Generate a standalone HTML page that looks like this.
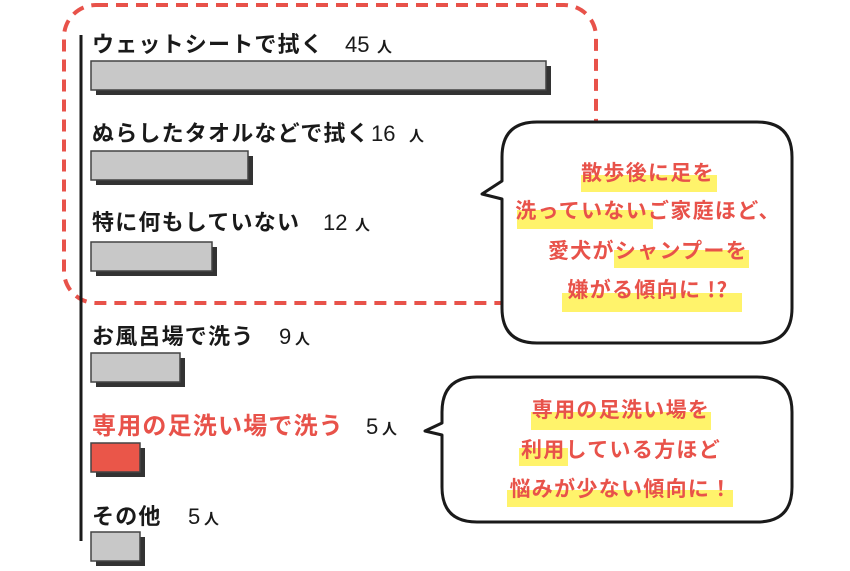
<!DOCTYPE html>
<html><head><meta charset="utf-8"><style>
html,body{margin:0;padding:0;background:#fff;}
svg{display:block;}
.l{font-family:"Noto Sans CJK JP",sans-serif;font-weight:bold;font-size:22px;letter-spacing:1.2px;fill:#1a1a1a;}
.n{font-family:"Liberation Sans Narrow","Liberation Sans",sans-serif;font-size:22px;fill:#1a1a1a;}
.p{font-family:"Noto Sans CJK JP",sans-serif;font-size:15px;fill:#1a1a1a;font-weight:bold;}
.b{font-family:"Noto Sans CJK JP",sans-serif;font-weight:bold;font-size:21px;letter-spacing:1.3px;fill:#e8524a;}
</style></head><body>
<svg width="850" height="571" viewBox="0 0 850 571">
<rect x="64" y="5" width="532" height="298" rx="32" fill="none" stroke="#e8524a" stroke-width="4" stroke-dasharray="12,8"/>
<line x1="81" y1="35" x2="81" y2="541" stroke="#1a1a1a" stroke-width="3"/>
<g>
<rect x="96" y="66" width="455" height="29" fill="#333"/><rect x="91" y="61" width="455" height="29" fill="#c8c8c8" stroke="#444" stroke-width="1.5"/>
<rect x="96" y="156" width="157" height="29" fill="#333"/><rect x="91" y="151" width="157" height="29" fill="#c8c8c8" stroke="#444" stroke-width="1.5"/>
<rect x="96" y="247" width="121" height="29" fill="#333"/><rect x="91" y="242" width="121" height="29" fill="#c8c8c8" stroke="#444" stroke-width="1.5"/>
<rect x="96" y="358" width="89" height="29" fill="#333"/><rect x="91" y="353" width="89" height="29" fill="#c8c8c8" stroke="#444" stroke-width="1.5"/>
<rect x="96" y="448" width="49" height="29" fill="#333"/><rect x="91" y="443" width="49" height="29" fill="#ea5649" stroke="#444" stroke-width="1.5"/>
<rect x="96" y="537" width="49" height="29" fill="#333"/><rect x="91" y="532" width="49" height="29" fill="#c8c8c8" stroke="#444" stroke-width="1.5"/>
</g>
<text class="l" x="92" y="52">ウェットシートで拭く</text><text class="n" x="345" y="52">45</text><text class="p" x="377" y="52">人</text>
<text class="l" x="92" y="141">ぬらしたタオルなどで拭く</text><text class="n" x="371" y="141">16</text><text class="p" x="409" y="141">人</text>
<text class="l" x="92" y="230">特に何もしていない</text><text class="n" x="323" y="230">12</text><text class="p" x="355" y="230">人</text>
<text class="l" x="92" y="344">お風呂場で洗う</text><text class="n" x="279" y="344">9</text><text class="p" x="295" y="344">人</text>
<text class="l" x="92" y="434" style="fill:#e8524a;font-size:24px">専用の足洗い場で洗う</text><text class="n" x="366" y="434">5</text><text class="p" x="382" y="434">人</text>
<text class="l" x="92" y="524">その他</text><text class="n" x="188" y="524">5</text><text class="p" x="204" y="524">人</text>
<path d="M537,122 H757 Q792,122 792,157 V308 Q792,343 757,343 H537 Q502,343 502,308 V199 L482,194 L502,181 V157 Q502,122 537,122 Z" fill="#fff" stroke="#1a1a1a" stroke-width="3" stroke-linejoin="round"/>
<g fill="#fff36b">
<rect x="581" y="175" width="136" height="17"/>
<rect x="517" y="210" width="136" height="19"/>
<rect x="614" y="250" width="135" height="18"/>
<rect x="562" y="293" width="180" height="19"/>
</g>
<text class="b" x="648" y="180" text-anchor="middle">散歩後に足を</text>
<text class="b" x="648" y="218" text-anchor="middle">洗っていないご家庭ほど、</text>
<text class="b" x="648" y="258" text-anchor="middle">愛犬がシャンプーを</text>
<text class="b" x="648" y="297" text-anchor="middle">嫌がる傾向に !?</text>
<path d="M477,377 H757 Q792,377 792,412 V487 Q792,522 757,522 H477 Q442,522 442,487 V435 L425,431 L442,423 V412 Q442,377 477,377 Z" fill="#fff" stroke="#1a1a1a" stroke-width="3" stroke-linejoin="round"/>
<g fill="#fff36b">
<rect x="531" y="412" width="180" height="18"/>
<rect x="519" y="448" width="49" height="18"/>
<rect x="507" y="490" width="226" height="17"/>
</g>
<text class="b" x="621" y="417" text-anchor="middle">専用の足洗い場を</text>
<text class="b" x="621" y="457" text-anchor="middle">利用している方ほど</text>
<text class="b" x="621" y="496" text-anchor="middle">悩みが少ない傾向に！</text>
</svg>
</body></html>
